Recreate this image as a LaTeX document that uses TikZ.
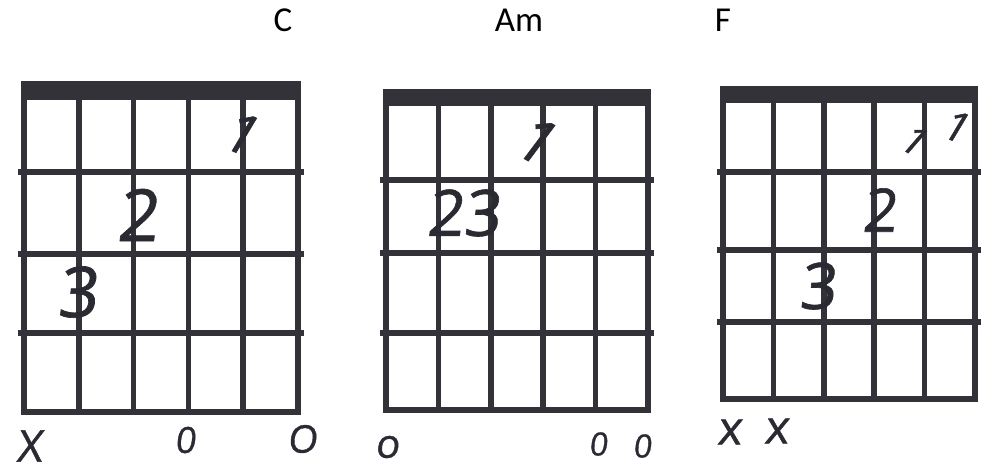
\documentclass[tikz,border=0pt]{standalone}
\usepackage{fontspec}
\setmainfont{Carlito}
\newfontfamily\hand[FakeSlant=0.12,FakeBold=1]{Open Sans}
\definecolor{gridc}{HTML}{323238}
\definecolor{inkc}{HTML}{2A2A33}
\newcommand\chordgrid[8]{%
  \fill[gridc] (#1,#3) rectangle (#2,#4);
  \draw[gridline] (#1+3,#4) -- (#1+3,#8-3) -- (#2-3,#8-3) -- (#2-3,#4);
  \foreach \i in {1,2,3,4}
    \draw[gridline] ({#1+3+\i*(#2-#1-6)/5},#4) -- ({#1+3+\i*(#2-#1-6)/5},#8-3);
  \foreach \yy in {#5,#6,#7}
    \draw[gridline] (#1,\yy) -- (#2,\yy);
}
\begin{document}
\begin{tikzpicture}[x=1pt,y=-1pt,
  gridline/.style={draw=gridc, line width=5.5pt, line cap=rect, line join=miter},
  title/.style={inner sep=0pt, text=black, font=\fontsize{35}{35}\selectfont},
  ink/.style={inner sep=0pt, text=inkc, font=\hand\fontsize{#1}{#1}\selectfont},
  ink/.default=60]
\useasboundingbox (0,0) rectangle (982,475);

% titles
\node[title] (tC) at (283,20) {C};
\node[title] (tAm) at (519,20) {Am};
\node[title] (tF) at (723,20) {F};

% grids
\chordgrid{21}{301}{81}{100}{172}{254}{333}{415}
\chordgrid{383}{651}{89}{106}{180}{253}{333}{413}
\chordgrid{720}{978}{86}{103}{172}{250}{322}{402}

% C chord marks
\node[ink=56, rotate=-24] (c1) at (241,133) {1};
\node[ink=72] (c2) at (137,215) {2};
\node[ink=70] (c3) at (77,292) {3};
\node[ink=44] (cx) at (29,446) {X};
\node[ink=36] (co1) at (185,440) {0};
\node[ink=38] (co2) at (302,439) {O};

% Am chord marks
\node[ink=62, rotate=-30] (a1) at (536,140) {1};
\node[ink=64] (a23) at (463,213) {23};
\node[ink=40] (ao1) at (387,447) {o};
\node[ink=32] (ao2) at (598,444) {0};
\node[ink=32] (ao3) at (642,446) {0};

% F chord marks
\node[ink=40, rotate=-34] (f1a) at (914,140) {1};
\node[ink=42, rotate=-24] (f1b) at (956,126) {1};
\node[ink=60] (f2) at (879,210) {2};
\node[ink=64] (f3) at (817,286) {3};
\node[ink=46] (fx1) at (729,432) {x};
\node[ink=46] (fx2) at (776,431) {x};
\end{tikzpicture}
\end{document}
